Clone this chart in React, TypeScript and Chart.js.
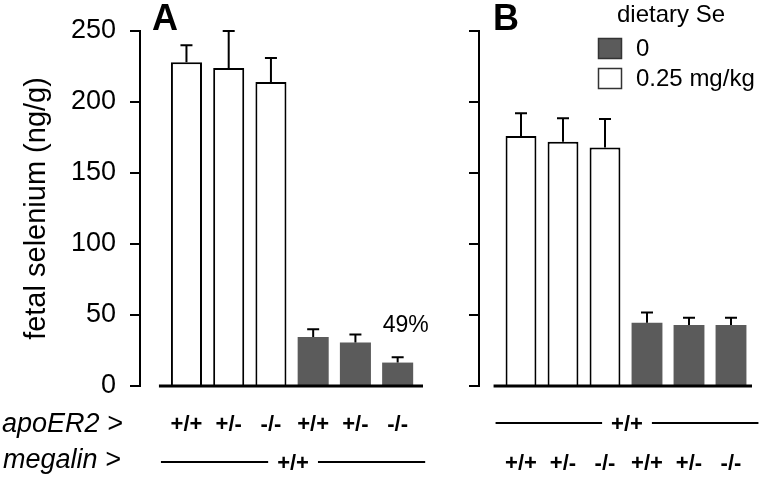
import React, { useEffect, useRef } from 'react';
import { Chart, registerables } from 'chart.js';

Chart.register(...registerables);

// ---------------- data ----------------
const genotypes = ['+/+', '+/-', '-/-', '+/+', '+/-', '-/-'];
const groupGenotype = '+/+';
const seriesLabels = ['0', '0.25 mg/kg'];
const legendTitle = 'dietary Se';
const yTitle = 'fetal selenium (ng/g)';
const yTickMax = 250;
const yTickStep = 50;

// panel A (megalin +/+, apoER2 varies)
const panelA_se025 = [228, 224, 214];
const panelA_se025Err = [12, 26, 17];
const panelA_se0 = [34.5, 30.6, 16.5];
const panelA_se0Err = [5.5, 5.6, 3.7];
const panelA_note = '49%';

// panel B (apoER2 +/+, megalin varies)
const panelB_se025 = [176, 172, 168];
const panelB_se025Err = [16, 16.5, 20];
const panelB_se0 = [44.5, 43, 43];
const panelB_se0Err = [7.3, 5, 5];

const FONT = "'Liberation Sans', Arial, Helvetica, sans-serif";
const DARK = '#5b5b5b';
const GENO_FONT = `bold 22px ${FONT}`;

function drawBaselineAndErrors(chart: any) {
  const ctx = chart.ctx;
  const y = chart.scales.y;
  const area = chart.chartArea;
  ctx.save();
  ctx.strokeStyle = '#000';
  ctx.lineWidth = 2;
  chart.data.datasets.forEach((ds: any, di: number) => {
    const meta = chart.getDatasetMeta(di);
    meta.data.forEach((bar: any, j: number) => {
      const v = ds.data[j].y;
      const e = ds.errors[j];
      const top = y.getPixelForValue(v + e);
      ctx.beginPath();
      ctx.moveTo(bar.x, bar.y);
      ctx.lineTo(bar.x, top);
      ctx.moveTo(bar.x - 6, top);
      ctx.lineTo(bar.x + 6, top);
      ctx.stroke();
    });
  });
  const first = chart.getDatasetMeta(1).data[0];
  const y0 = y.getPixelForValue(0);
  ctx.lineWidth = 3;
  ctx.beginPath();
  ctx.moveTo(first.x - first.width / 2 - 12, y0);
  ctx.lineTo(area.right, y0);
  ctx.stroke();
  ctx.restore();
}

function drawGenotypeRow(chart: any, labels: string[], baseline: number) {
  const ctx = chart.ctx;
  const x = chart.scales.x;
  ctx.save();
  ctx.fillStyle = '#000';
  ctx.font = GENO_FONT;
  ctx.textAlign = 'center';
  ctx.textBaseline = 'alphabetic';
  labels.forEach((l, i) => {
    ctx.fillText(l, x.getPixelForValue(i), baseline);
  });
  ctx.restore();
}

function drawGroupRow(chart: any, label: string, lineY: number, baseline: number) {
  const ctx = chart.ctx;
  const first = chart.getDatasetMeta(1).data[0];
  const metaLast = chart.getDatasetMeta(0).data;
  const last = metaLast[metaLast.length - 1];
  const left = first.x - first.width / 2 - 10;
  const right = last.x + last.width / 2 + 12;
  const mid = (left + right) / 2;
  ctx.save();
  ctx.font = GENO_FONT;
  const w = ctx.measureText(label).width;
  ctx.strokeStyle = '#000';
  ctx.lineWidth = 2;
  ctx.beginPath();
  ctx.moveTo(left, lineY);
  ctx.lineTo(mid - w / 2 - 9, lineY);
  ctx.moveTo(mid + w / 2 + 9, lineY);
  ctx.lineTo(right, lineY);
  ctx.stroke();
  ctx.fillStyle = '#000';
  ctx.textAlign = 'center';
  ctx.textBaseline = 'alphabetic';
  ctx.fillText(label, mid, baseline);
  ctx.restore();
}

function drawPanelLetter(chart: any, letter: string, dx: number) {
  const ctx = chart.ctx;
  ctx.save();
  ctx.fillStyle = '#000';
  ctx.font = `bold 36px ${FONT}`;
  ctx.textAlign = 'left';
  ctx.textBaseline = 'alphabetic';
  ctx.fillText(letter, chart.chartArea.left + dx, 30);
  ctx.restore();
}

const panelAPlugin = {
  id: 'panelA',
  afterDatasetsDraw(chart: any) {
    drawBaselineAndErrors(chart);
  },
  afterDraw(chart: any) {
    const ctx = chart.ctx;
    drawPanelLetter(chart, 'A', 12);
    ctx.save();
    ctx.fillStyle = '#000';
    ctx.font = `italic 27px ${FONT}`;
    ctx.textAlign = 'left';
    ctx.textBaseline = 'alphabetic';
    ctx.fillText('apoER2 >', 2, 432);
    ctx.fillText('megalin >', 3, 468);
    ctx.restore();
    drawGenotypeRow(chart, genotypes, 431);
    drawGroupRow(chart, groupGenotype, 462, 470);
    const meta = chart.getDatasetMeta(0).data;
    const j = meta.length - 1;
    const bar = meta[j];
    const ds = chart.data.datasets[0];
    const top = chart.scales.y.getPixelForValue(ds.data[j].y + ds.errors[j]);
    ctx.save();
    ctx.fillStyle = '#000';
    ctx.font = `23px ${FONT}`;
    ctx.textAlign = 'center';
    ctx.textBaseline = 'alphabetic';
    ctx.fillText(panelA_note, bar.x + 8, top - 25);
    ctx.restore();
  },
};

const panelBPlugin = {
  id: 'panelB',
  afterDatasetsDraw(chart: any) {
    drawBaselineAndErrors(chart);
  },
  afterDraw(chart: any) {
    const ctx = chart.ctx;
    drawPanelLetter(chart, 'B', 14);
    drawGroupRow(chart, groupGenotype, 423, 431);
    drawGenotypeRow(chart, genotypes, 470);
    ctx.save();
    ctx.fillStyle = '#000';
    ctx.font = `24px ${FONT}`;
    ctx.textAlign = 'center';
    ctx.textBaseline = 'alphabetic';
    ctx.fillText(legendTitle, 211, 22);
    const items = [chart.data.datasets[0], chart.data.datasets[1]];
    items.forEach((ds: any, i: number) => {
      const top = 38 + i * 30;
      ctx.fillStyle = ds.backgroundColor;
      ctx.fillRect(138, top, 24, 21);
      ctx.strokeStyle = '#333';
      ctx.lineWidth = 1.5;
      ctx.strokeRect(138.5, top + 0.5, 23, 20);
      ctx.fillStyle = '#000';
      ctx.textAlign = 'left';
      ctx.textBaseline = 'middle';
      ctx.fillText(ds.label, 176, top + 11);
    });
    ctx.restore();
  },
};

function buildConfig(
  se0: number[], se0Err: number[], se025: number[], se025Err: number[],
  xMin: number, xMax: number, axisWidth: number, showLabels: boolean,
  padRight: number, plugin: any
): any {
  return {
    type: 'bar',
    data: {
      datasets: [
        {
          label: seriesLabels[0],
          data: se0.map((v, i) => ({ x: i + se025.length, y: v })),
          errors: se0Err,
          backgroundColor: DARK,
          borderColor: DARK,
          borderWidth: 0,
          grouped: false,
          categoryPercentage: 1,
          barPercentage: 0.735,
        },
        {
          label: seriesLabels[1],
          data: se025.map((v, i) => ({ x: i, y: v })),
          errors: se025Err,
          backgroundColor: '#ffffff',
          borderColor: '#000000',
          borderWidth: 2,
          grouped: false,
          categoryPercentage: 1,
          barPercentage: 0.735,
        },
      ],
    },
    options: {
      responsive: false,
      animation: false,
      devicePixelRatio: 1,
      layout: { padding: { top: 31, bottom: 93, left: 0, right: padRight } },
      plugins: { legend: { display: false }, tooltip: { enabled: false } },
      scales: {
        x: {
          type: 'linear',
          min: xMin,
          max: xMax,
          offset: false,
          display: false,
          ticks: { includeBounds: false, stepSize: 1 },
          afterBuildTicks: (s: any) => {
            s.ticks = s.ticks.filter((t: any) => Number.isInteger(t.value));
          },
        },
        y: {
          min: 0,
          max: yTickMax,
          afterFit: (s: any) => {
            s.width = axisWidth;
          },
          ticks: {
            stepSize: yTickStep,
            display: showLabels,
            color: '#000',
            padding: 14,
            font: { family: FONT, size: 27 },
          },
          grid: {
            drawOnChartArea: false,
            drawTicks: true,
            tickLength: 10,
            color: '#000',
            lineWidth: 2,
          },
          border: { display: true, color: '#000', width: 2 },
          title: {
            display: showLabels,
            text: yTitle,
            color: '#000',
            font: { family: FONT, size: 29 },
            padding: { top: 20, bottom: 0 },
          },
        },
      },
    },
    plugins: [plugin],
  };
}

export default function App() {
  const refA = useRef<HTMLCanvasElement>(null);
  const refB = useRef<HTMLCanvasElement>(null);
  useEffect(() => {
    const a = new Chart(
      refA.current as HTMLCanvasElement,
      buildConfig(panelA_se0, panelA_se0Err, panelA_se025, panelA_se025Err, -1.1, 5.6, 140, true, 37, panelAPlugin)
    );
    const b = new Chart(
      refB.current as HTMLCanvasElement,
      buildConfig(panelB_se0, panelB_se0Err, panelB_se025, panelB_se025Err, -1.0, 5.5, 19, false, 8, panelBPlugin)
    );
    return () => {
      a.destroy();
      b.destroy();
    };
  }, []);
  return (
    <div style={{ position: 'absolute', left: 0, top: 0, width: 760, height: 479, background: '#fff' }}>
      <canvas ref={refA} width={460} height={479} style={{ position: 'absolute', left: 0, top: 0 }} />
      <canvas ref={refB} width={300} height={479} style={{ position: 'absolute', left: 460, top: 0 }} />
    </div>
  );
}
